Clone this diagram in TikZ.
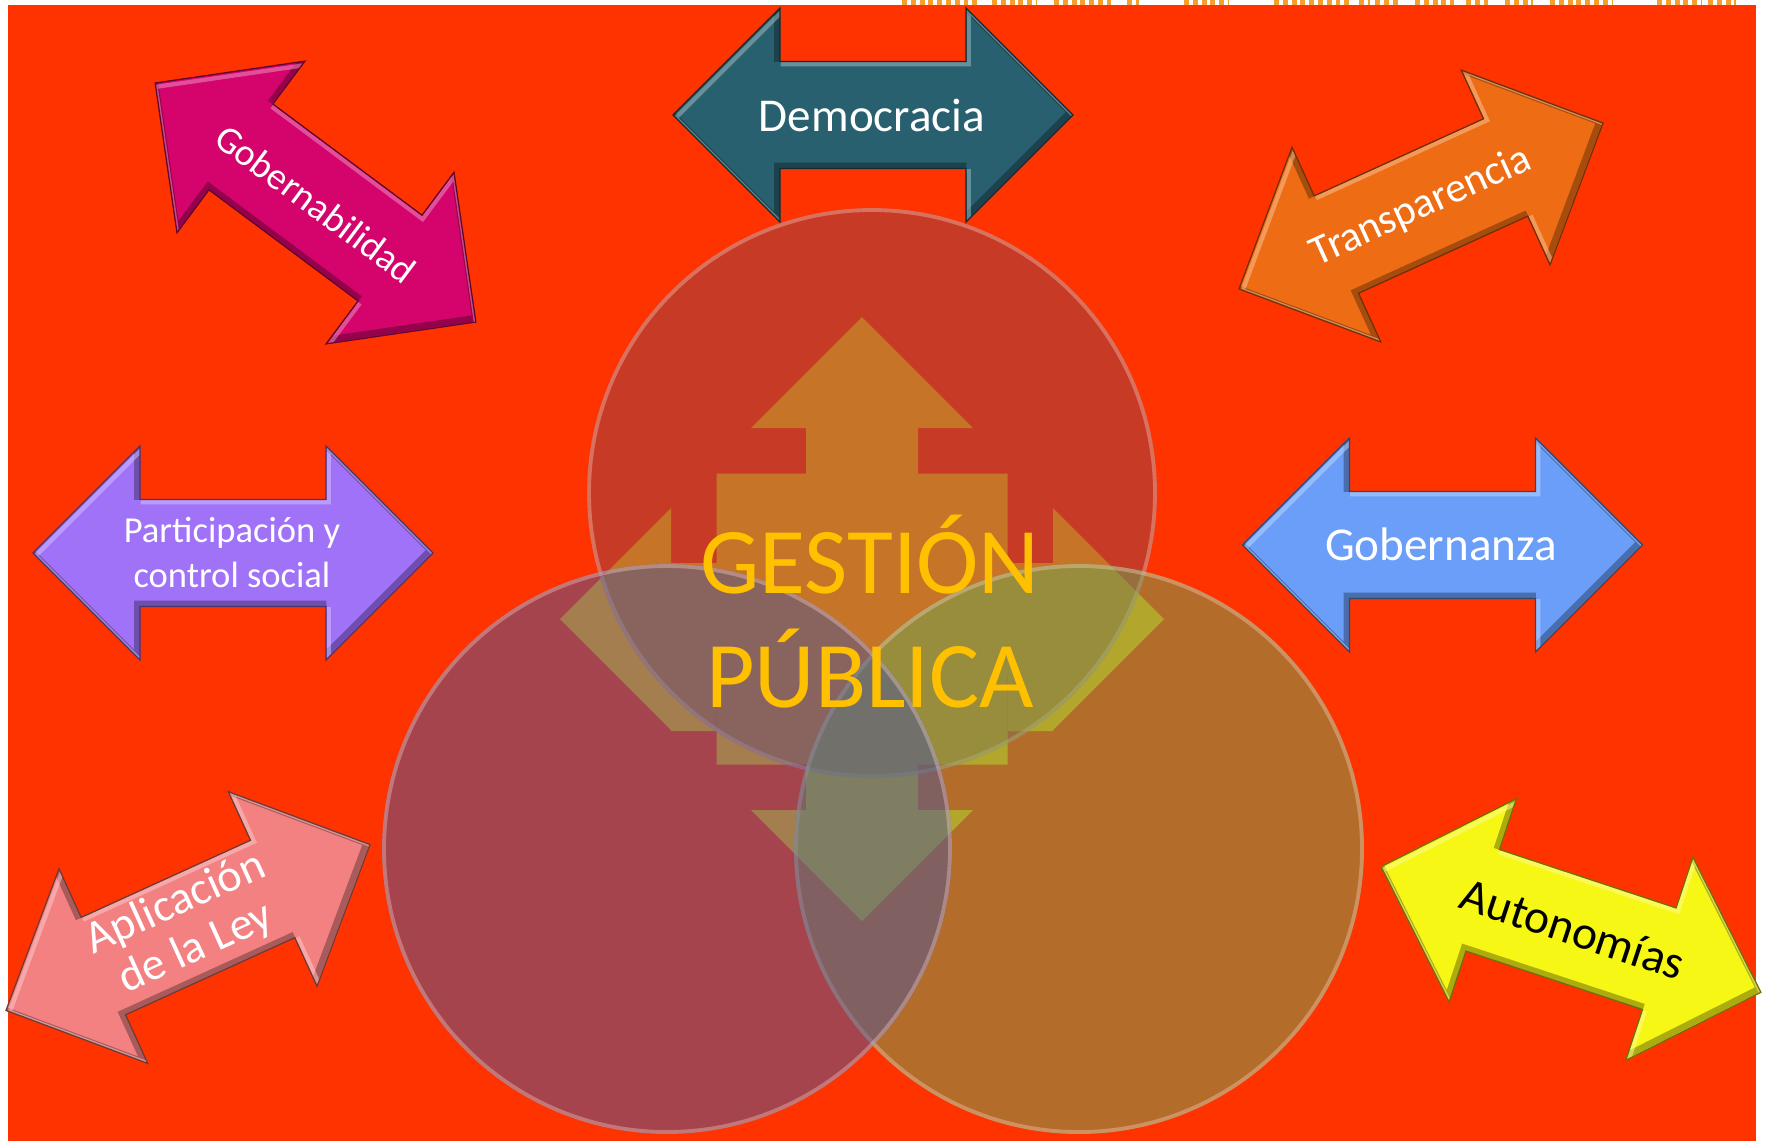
\documentclass[tikz,border=0pt]{standalone}
\usepackage{fontspec}
\setmainfont{Carlito}
\definecolor{BgRed}{HTML}{FF3300}
\definecolor{BitOrange}{HTML}{F5A02E}
\definecolor{DemTeal}{HTML}{28606F}
\definecolor{GobMagenta}{HTML}{D4046C}
\definecolor{TraOrange}{HTML}{EE6D14}
\definecolor{ParPurple}{HTML}{A072F8}
\definecolor{GnzBlue}{HTML}{6A9EF9}
\definecolor{AplPink}{HTML}{F38182}
\definecolor{AutYellow}{HTML}{F7F715}
\definecolor{CrossOrange}{HTML}{FDA804}
\definecolor{TopC}{HTML}{91414A}
\definecolor{LeftC}{HTML}{4D5598}
\definecolor{RightC}{HTML}{6BA554}
\definecolor{RimPink}{HTML}{FFD8CC}
\definecolor{TitleGold}{HTML}{FFC000}
\newcommand{\sizept}[2]{\fontsize{#1pt}{#2pt}\selectfont}
\def\twowaypath{(-200,0) -- (-93,-107) -- (-93,-53.5) -- (93,-53.5) -- (93,-107) -- (200,0) -- (93,107) -- (93,53.5) -- (-93,53.5) -- (-93,107) -- cycle}
\def\crosspath{(862,317) -- (973,428) -- (918,428) -- (918,473.5) -- (1007.5,473.5) -- (1007.5,563) -- (1053,563) -- (1053,508) -- (1164,619) -- (1053,730) -- (1053,675) -- (1007.5,675) -- (1007.5,764.5) -- (918,764.5) -- (918,810) -- (973,810) -- (862,921) -- (751,810) -- (806,810) -- (806,764.5) -- (716.5,764.5) -- (716.5,675) -- (671,675) -- (671,730) -- (560,619) -- (671,508) -- (671,563) -- (716.5,563) -- (716.5,473.5) -- (806,473.5) -- (806,428) -- (751,428) -- cycle}
\def\topcircle{(872,493) circle [radius=28.5mm]}
\def\leftcircle{(667,849) circle [radius=28.5mm]}
\def\rightcircle{(1079,849) circle [radius=28.5mm]}
\tikzset{%
  twoway/.pic={code={
    \fill[#1] \twowaypath;
    \begin{scope}
      \clip \twowaypath;
      \draw[#1!45!black, draw opacity=.55, line width=1.8pt, xshift=-.8pt, yshift=.8pt] \twowaypath;
      \draw[#1!40!white, draw opacity=.5, line width=1.2pt, xshift=.8pt, yshift=-.8pt] \twowaypath;
    \end{scope}
    \draw[#1!45!black, line width=.35pt] \twowaypath;
  }},
  arrow text/.style={text=white, align=center, inner sep=0pt},
  venn/.style={fill=#1, fill opacity=.5},
  rim/.style={draw=RimPink, draw opacity=.35, line width=1.1pt},
  title bits/.style={draw=BitOrange, line width=1.4pt, dash pattern=on 1.4pt off 1.1pt}
}
\begin{document}
\begin{tikzpicture}[x=0.1mm, y=-0.1mm]
\useasboundingbox (0,0) rectangle (1768,1141);
\fill[BgRed] (8,5) rectangle (1756,1141);
\foreach \a/\b in {902/981, 992/1037, 1054/1111, 1127/1139, 1184/1229, 1274/1353, 1359/1370, 1375/1398, 1415/1454, 1466/1488, 1505/1533, 1550/1612, 1657/1702, 1708/1736}
  \draw[title bits] (\a,2.5) -- (\b,2.5);

% cross behind the venn
\fill[CrossOrange] \crosspath;
\fill[CrossOrange] (671,675) rectangle (716.5,731) (1007.5,675) rectangle (1053,731);

% venn: top, right, left
\fill[venn=TopC] \topcircle;
\draw[rim] (872,493) circle [radius=28.3mm];
\fill[venn=RightC] \rightcircle;
\draw[rim] (1079,849) circle [radius=28.3mm];
\fill[venn=LeftC] \leftcircle;
\draw[rim] (667,849) circle [radius=28.3mm];

\node[text=TitleGold, align=center, inner sep=0pt, font=\sizept{26.75}{32.4}] (gestion) at (870,612) {GESTIÓN\\PÚBLICA};

% arrows round the venn
\pic (demarrow) at (873,115) {twoway=DemTeal};
\node[arrow text, font=\sizept{13.4}{16}] (democracia) at (872,115) {Democracia};

\pic[rotate=-36.7] (gobarrow) at (315.5,202.5) {twoway=GobMagenta};
\node[arrow text, rotate=-36.7, font=\sizept{10.8}{13}] (gobernabilidad) at (316,204) {Gobernabilidad};

\pic[rotate=24.5] (traarrow) at (1421,206) {twoway=TraOrange};
\node[arrow text, rotate=24.5, font=\sizept{11.95}{14.3}] (transparencia) at (1421,207) {Transparencia};

\pic (pararrow) at (233,553) {twoway=ParPurple};
\node[arrow text, font=\sizept{10.4}{12.8}] (participacion) at (232,552) {Participación y\\control social};

\pic (gnzarrow) at (1442.5,545) {twoway=GnzBlue};
\node[arrow text, font=\sizept{13.4}{16}] (gobernanza) at (1441,544) {Gobernanza};

\pic[rotate=24.5] (aplarrow) at (188,927.5) {twoway=AplPink};
\node[arrow text, rotate=24.5, font=\sizept{13.1}{14}] (aplicacion) at (186,926) {Aplicación\\de la Ley};

\pic[rotate=-18.3] (autarrow) at (1571,929.5) {twoway=AutYellow};
\node[arrow text, text=black, rotate=-18.3, font=\sizept{13.5}{16.2}] (autonomias) at (1573,929) {Autonomías};
\end{tikzpicture}
\end{document}
